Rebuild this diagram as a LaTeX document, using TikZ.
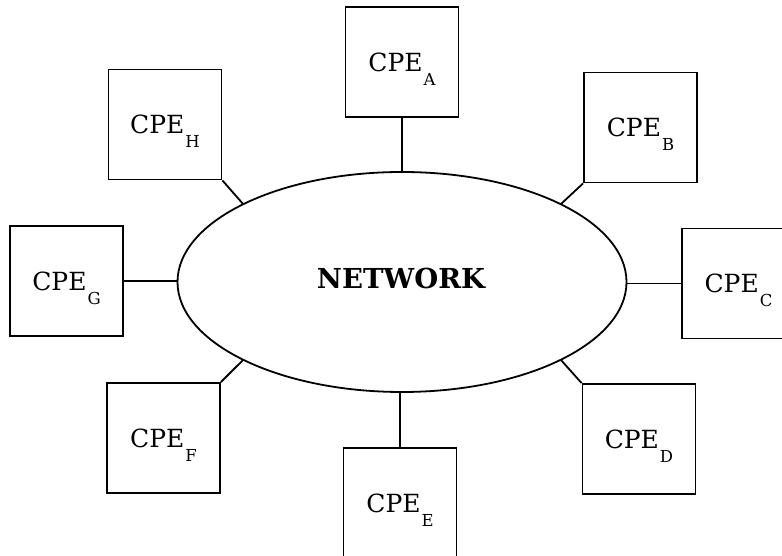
\documentclass[tikz,border=0pt]{standalone}
\usepackage{fontspec}
\setmainfont{DejaVu Serif}
\usetikzlibrary{shapes.geometric,calc}
\newcommand{\cpelab}[1]{\fontsize{25}{29}\selectfont CPE\kern1pt\smash{\raisebox{-14pt}{\fontsize{16.5}{20}\selectfont #1}}}
\begin{document}
\begin{tikzpicture}[x=1pt,y=1pt,line width=1.8pt,
  box/.style={draw, minimum width=113pt, minimum height=110pt, inner sep=0pt},
  link/.style={line width=1.8pt}]
\clip (0,0) rectangle (782,556);
\node[ellipse, draw, minimum width=449pt, minimum height=220pt, inner sep=0pt] (net) at (402,274) {};
\node[font=\fontsize{27.5}{31}\selectfont\bfseries] (netlab) at (401,278) {NETWORK};
\node[box] (A) at (402,494) {\cpelab{A}};
\node[box] (B) at (640.5,428.5) {\cpelab{B}};
\node[box] (C) at (738.5,272.5) {\cpelab{C}};
\node[box] (D) at (639,117) {\cpelab{D}};
\node[box] (E) at (400,53) {\cpelab{E}};
\node[box] (F) at (163.5,118) {\cpelab{F}};
\node[box] (G) at (66.5,275) {\cpelab{G}};
\node[box] (H) at (165,431.5) {\cpelab{H}};
\coordinate (pB) at ($(net.center)+(45:224.5 and 110)$);
\coordinate (pD) at ($(net.center)+(-45:224.5 and 110)$);
\coordinate (pF) at ($(net.center)+(225:224.5 and 110)$);
\coordinate (pH) at ($(net.center)+(135:224.5 and 110)$);
\draw[link] (A.south) -- (A.south |- net.north);
\draw[link] (E.north) -- (E.north |- net.south);
\draw[link] (G.east) -- (G.east -| net.west);
\draw[link] (C.west) -- (C.west -| net.east);
\draw[link] (B.south west) -- (pB);
\draw[link] (D.north west) -- (pD);
\draw[link] (F.north east) -- (pF);
\draw[link] (H.south east) -- (pH);
\end{tikzpicture}
\end{document}
